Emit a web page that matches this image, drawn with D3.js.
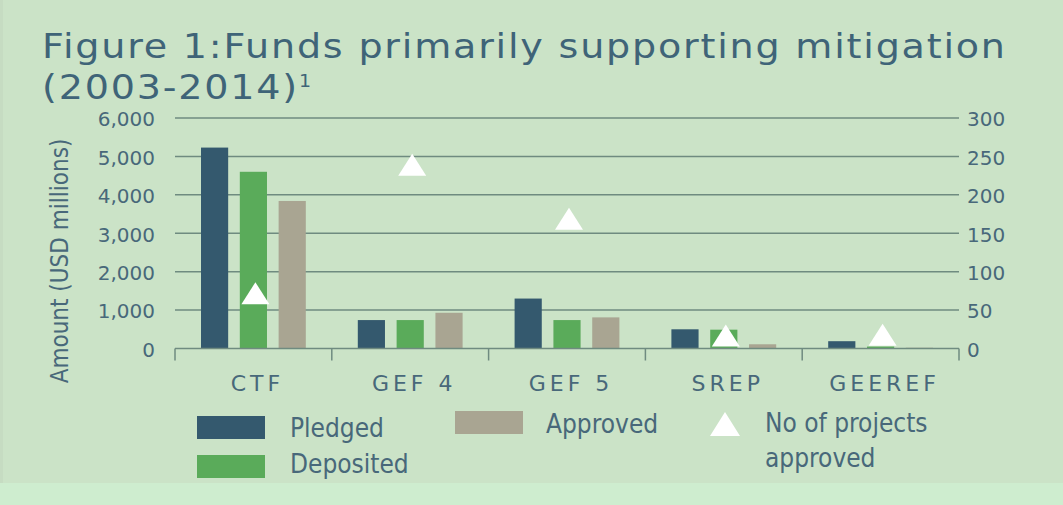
<!DOCTYPE html>
<html><head><meta charset="utf-8">
<script src="https://cdn.jsdelivr.net/npm/d3@7"></script>
<style>
html,body{margin:0;padding:0;background:#cbe3c7;}
svg{display:block;}
</style></head>
<body>
<svg id="chart" width="1063" height="505"></svg>
<script>
const categories = ["CTF", "GEF 4", "GEF 5", "SREP", "GEEREF"];
const seriesNames = ["Pledged", "Deposited", "Approved"];
const pledged   = [5230, 740, 1300, 500, 190];
const deposited = [4600, 740, 740, 490, 50];
const approved  = [3840, 930, 810, 110, 20];
const projects  = [72, 239, 169, 17, 18];
const leftTicks = [0, 1000, 2000, 3000, 4000, 5000, 6000];
const rightTicks = [0, 50, 100, 150, 200, 250, 300];

const colors = {Pledged:"#34596e", Deposited:"#5aab5a", Approved:"#a9a592"};
const textCol = "#48687a";
const gridCol = "#6f8b80";
const W = 1063, H = 505;
const svg = d3.select("#chart");
const mainFont = "'DejaVu Sans', 'Open Sans', sans-serif";
const condFont = "'DejaVu Sans Condensed', 'Liberation Sans Narrow', sans-serif";

svg.append("rect").attr("width", W).attr("height", H).attr("fill", "#cbe3c7");
svg.append("rect").attr("x", 0).attr("y", 483).attr("width", W).attr("height", H-483).attr("fill", "#ceedcf");
svg.append("rect").attr("x", 0).attr("y", 0).attr("width", 3).attr("height", 483).attr("fill", "#c6dcc2");

const plotL = 175, plotR = 959, plotT = 118, plotB = 348.5;
const x0 = d3.scaleBand().domain(categories).range([plotL, plotR]).padding(0);
const x1 = d3.scaleBand().domain(seriesNames).range([26, x0.bandwidth()-26]).paddingInner(0.3).paddingOuter(0);
const yL = d3.scaleLinear().domain([0, 6000]).range([plotB, plotT]);
const yR = d3.scaleLinear().domain([0, 300]).range([plotB, plotT]);

// title
const titleText = "Figure 1:Funds primarily supporting mitigation";
const fs = 34, sx = 1.12;
const tg = svg.append("g").attr("transform", `translate(42,0) scale(${sx},1)`);
const title = tg.append("text").attr("x", 0).attr("y", 58.5)
  .attr("fill", "#3f6478").style("font-family", mainFont)
  .style("font-size", fs + "px").text(titleText);
const tw = title.node().getComputedTextLength();
const ls = (963 / sx - tw) / (titleText.length - 1);
title.style("letter-spacing", ls + "px");
const t2 = tg.append("text").attr("x", 0).attr("y", 99.5)
  .attr("fill", "#3f6478").style("font-family", mainFont)
  .style("font-size", fs + "px").style("letter-spacing", ls + "px");
t2.append("tspan").text("(2003-2014)");
t2.append("tspan").attr("dy", -12).style("font-size", (fs*0.5) + "px").text("1");

// gridlines
svg.append("g").selectAll("line").data(leftTicks.slice(1)).join("line")
  .attr("x1", plotL).attr("x2", plotR)
  .attr("y1", d => yL(d)).attr("y2", d => yL(d))
  .attr("stroke", gridCol).attr("stroke-width", 1.5);

// left axis labels
const fmt = d3.format(",");
svg.append("g").selectAll("text").data(leftTicks).join("text")
  .attr("x", 155).attr("y", d => yL(d)).attr("dy", "0.42em")
  .attr("text-anchor", "end").attr("fill", textCol)
  .style("font-family", mainFont).style("font-size", "20px")
  .text(d => fmt(d));

// right axis labels
svg.append("g").selectAll("text").data(rightTicks).join("text")
  .attr("x", 967).attr("y", d => yR(d)).attr("dy", "0.42em")
  .attr("text-anchor", "start").attr("fill", textCol)
  .style("font-family", mainFont).style("font-size", "20px")
  .text(d => d);

// y axis title
svg.append("text").attr("transform", "translate(68,261) rotate(-90)")
  .attr("text-anchor", "middle").attr("fill", textCol)
  .style("font-family", condFont)
  .style("font-stretch", "condensed").style("font-size", "24px")
  .text("Amount (USD millions)");

// bars
const data = categories.map((c, i) => ({cat: c, vals: [
  {s: "Pledged", v: pledged[i]}, {s: "Deposited", v: deposited[i]}, {s: "Approved", v: approved[i]}]}));
const g = svg.append("g");
g.selectAll("g").data(data).join("g")
  .attr("transform", d => `translate(${x0(d.cat)},0)`)
  .selectAll("rect").data(d => d.vals).join("rect")
  .attr("x", d => x1(d.s)).attr("width", x1.bandwidth())
  .attr("y", d => yL(d.v)).attr("height", d => plotB - yL(d.v))
  .attr("fill", d => colors[d.s]);

// baseline axis
const xAxis = svg.append("g");
xAxis.append("line").attr("x1", plotL).attr("x2", plotR).attr("y1", plotB).attr("y2", plotB)
  .attr("stroke", gridCol).attr("stroke-width", 1.5);
const bounds = categories.map(c => x0(c)).concat([plotR]);
xAxis.selectAll(".tk").data(bounds).join("line").attr("class", "tk")
  .attr("x1", d => d).attr("x2", d => d).attr("y1", plotB).attr("y2", plotB + 12)
  .attr("stroke", gridCol).attr("stroke-width", 1.5);
xAxis.selectAll("text").data(categories).join("text")
  .attr("x", d => x0(d) + x0.bandwidth()/2 + 4).attr("y", 391)
  .attr("text-anchor", "middle").attr("fill", textCol)
  .style("font-family", mainFont).style("font-size", "22px")
  .style("letter-spacing", "4px")
  .text(d => d);

// triangles
const tri = (cx, cy, w, h) => `M${cx},${cy - h/2} L${cx + w/2},${cy + h/2} L${cx - w/2},${cy + h/2} Z`;
svg.append("g").selectAll("path").data(categories).join("path")
  .attr("d", (d, i) => tri(x0(d) + x0.bandwidth()/2 + 2, yR(projects[i]), 28, 22))
  .attr("fill", "#ffffff");

// legend
const lg = svg.append("g").style("font-family", condFont)
  .style("font-stretch", "condensed").style("font-size", "26px").attr("fill", textCol);
const legendItems = [
  {s: "Pledged", x: 197, y: 416, tx: 290, ty: 437},
  {s: "Deposited", x: 197, y: 455, tx: 290, ty: 473},
  {s: "Approved", x: 455, y: 411, tx: 546, ty: 433}
];
legendItems.forEach(it => {
  lg.append("rect").attr("x", it.x).attr("y", it.y).attr("width", 68).attr("height", 23).attr("fill", colors[it.s]);
  lg.append("text").attr("x", it.tx).attr("y", it.ty).attr("fill", textCol).text(it.s);
});
lg.append("path").attr("d", tri(725, 424, 30, 24)).attr("fill", "#ffffff");
lg.append("text").attr("x", 765).attr("y", 432).attr("fill", textCol).text("No of projects");
lg.append("text").attr("x", 765).attr("y", 467).attr("fill", textCol).text("approved");
</script>
</body></html>
